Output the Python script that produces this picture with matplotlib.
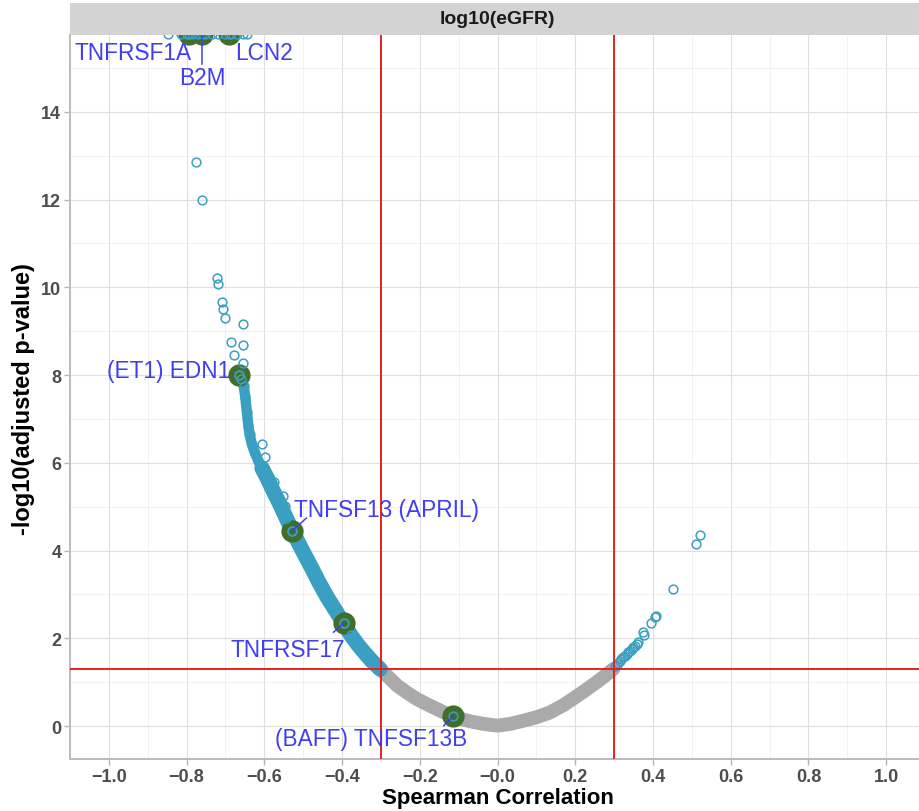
import matplotlib
matplotlib.use("Agg")
import matplotlib.pyplot as plt
from matplotlib.patches import Rectangle
import numpy as np

# ---- data ----
# significant genes, negative side (dense band from EDN1 down to rho = -0.3)
band_neg_rho = [-0.666, -0.660, -0.653, -0.649, -0.645, -0.641, -0.638, -0.632, -0.624,
                -0.615, -0.606, -0.593, -0.576, -0.559, -0.544, -0.528, -0.503, -0.478,
                -0.459, -0.439, -0.417, -0.396, -0.377, -0.358, -0.340, -0.323, -0.302]
band_neg_logp = [8.01, 7.92, 7.75, 7.50, 7.16, 6.85, 6.65, 6.42, 6.22,
                 6.04, 5.88, 5.66, 5.34, 5.04, 4.75, 4.45, 4.02, 3.60,
                 3.27, 2.95, 2.64, 2.34, 2.07, 1.84, 1.65, 1.48, 1.30]

# non significant genes (grey band)
ns_rho = [-0.302, -0.281, -0.259, -0.234, -0.208, -0.182, -0.156, -0.135, -0.114, -0.092,
          -0.071, -0.036, 0.000, 0.033, 0.066, 0.100, 0.135, 0.170, 0.204, 0.230,
          0.255, 0.277, 0.298]
ns_logp = [1.30, 1.12, 0.93, 0.77, 0.62, 0.50, 0.39, 0.30, 0.22, 0.16,
           0.11, 0.05, 0.01, 0.05, 0.12, 0.20, 0.31, 0.48, 0.68, 0.84,
           1.00, 1.15, 1.30]

# significant genes, positive side
pos_rho = [0.302, 0.307, 0.311, 0.315, 0.319, 0.324, 0.328, 0.332, 0.336, 0.341, 0.345,
           0.349, 0.353, 0.358, 0.362, 0.375, 0.377, 0.396, 0.405, 0.407, 0.452, 0.512, 0.522]
pos_logp = [1.36, 1.40, 1.44, 1.49, 1.53, 1.57, 1.60, 1.64, 1.68, 1.72, 1.76,
            1.80, 1.83, 1.87, 1.91, 2.14, 2.08, 2.35, 2.48, 2.50, 3.12, 4.15, 4.35]

# scattered significant genes on the negative side
out_rho = [-0.775, -0.760, -0.722, -0.719, -0.710, -0.706, -0.701, -0.655, -0.687,
           -0.655, -0.679, -0.655, -0.606, -0.598, -0.576, -0.551, -0.546]
out_logp = [12.86, 11.99, 10.21, 10.08, 9.67, 9.51, 9.30, 9.17, 8.75,
            8.69, 8.46, 8.28, 6.43, 6.13, 5.56, 5.24, 5.02]

# genes beyond the top of the y range
top_rho = [-0.847, -0.815, -0.800, -0.785, -0.770, -0.752, -0.735, -0.718,
           -0.700, -0.685, -0.670, -0.655, -0.645]
top_logp = [15.78, 15.78, 15.78, 15.78, 15.78, 15.78, 15.78, 15.78,
            15.78, 15.78, 15.78, 15.78, 15.78]

# highlighted genes
gene_labels = ["TNFRSF1A", "B2M", "LCN2", "(ET1) EDN1", "TNFSF13 (APRIL)",
               "TNFRSF17", "(BAFF) TNFSF13B"]
gene_rho = [-0.793, -0.761, -0.692, -0.666, -0.528, -0.396, -0.114]
gene_logp = [15.78, 15.78, 15.78, 8.01, 4.45, 2.34, 0.22]

rho_cut = 0.3
logp_cut = 1.3

# label placement (x centre, baseline) and segment end on the label side
label_pos = [(-0.937, 15.21), (-0.760, 14.64), (-0.602, 15.21), (-0.845, 7.95),
             (-0.286, 4.78), (-0.539, 1.60), (-0.325, -0.43)]
seg_end = [None, (-0.761, 15.09), None, None,
           (-0.492, 4.74), (-0.422, 2.14), (-0.138, 0.01)]

teal = "#3A9FC1"
grey = "#AAAAAA"
green = "#426E2C"
blue = "#3F3FF2"

plt.rcParams["font.family"] = ["Liberation Sans", "DejaVu Sans"]

W, H = 920, 812
fig = plt.figure(figsize=(W / 100, H / 100), dpi=100)
ax = fig.add_axes([70 / W, 52 / H, 855 / W, 724 / H])

ax.set_xlim(-1.1, 1.1)
ax.set_ylim(-0.75, 15.75)

xt = np.round(np.arange(-1.0, 1.01, 0.2), 1)
ax.set_xticks(xt)
ax.set_xticklabels([f"{v:.1f}".replace("-", "\u2212") for v in xt])
ax.set_xticks(np.round(np.arange(-1.1, 1.11, 0.2), 1), minor=True)
ax.set_yticks(np.arange(0, 15, 2))
ax.set_yticks(np.arange(1, 16, 2), minor=True)

ax.grid(which="major", color="#DEDEDE", lw=0.8)
ax.grid(which="minor", color="#ECECEC", lw=0.5)
ax.set_axisbelow(True)
for s in ["top", "right"]:
    ax.spines[s].set_visible(False)
for s in ["left", "bottom"]:
    ax.spines[s].set_color("#BBBBBB")
    ax.spines[s].set_linewidth(1.4)
ax.tick_params(which="major", length=4.3, width=1, color="#B3B3B3",
               labelsize=13, labelcolor="#4D4D4D", pad=2)
ax.tick_params(which="minor", length=0)
for t in ax.get_xticklabels() + ax.get_yticklabels():
    t.set_fontweight("bold")

# dense bands
split = 10
ax.plot(band_neg_rho[:split + 1], band_neg_logp[:split + 1], color=teal, lw=7.5,
        solid_capstyle="round", zorder=2)
ax.plot(band_neg_rho[split:], band_neg_logp[split:], color=teal, lw=11,
        solid_capstyle="round", zorder=2)
ax.plot(ns_rho, ns_logp, color=grey, lw=10, solid_capstyle="round", zorder=1.9)
ax.plot(ns_rho, ns_logp, "o", ms=6.3, mfc="none", mec=grey, mew=1.1, zorder=1.9)

# highlighted genes underlay
ax.plot(gene_rho, gene_logp, "o", ms=16, color=green, mec="none", zorder=3)

ring = dict(ms=6.3, mfc="none", mec=teal, mew=1.1, zorder=4, ls="none", marker="o")
ax.plot(band_neg_rho, band_neg_logp, **ring)
ax.plot(pos_rho, pos_logp, **ring)
ax.plot(out_rho, out_logp, **ring)
ax.plot(top_rho, top_logp, **ring)
ax.plot(gene_rho, gene_logp, **ring)

ax.axvline(-rho_cut, color="#E8201E", lw=1.4, zorder=4.5)
ax.axvline(rho_cut, color="#E8201E", lw=1.4, zorder=4.5)
ax.axhline(logp_cut, color="#E8201E", lw=1.4, zorder=4.5)

for lab, r, p, (lx, ly), se in zip(gene_labels, gene_rho, gene_logp, label_pos, seg_end):
    if se is not None:
        ax.plot([r, se[0]], [p, se[1]], color=blue, lw=1.1, zorder=5)
    ax.text(lx, ly, lab, ha="center", va="baseline", fontsize=16.3, color=blue, zorder=6)

# facet strip
fig.patches.append(Rectangle((70 / W, (H - 36) / H), 855 / W, 32 / H,
                             transform=fig.transFigure, facecolor="#D3D3D3",
                             edgecolor="none"))
fig.text(497.5 / W, (H - 20) / H, "log10(eGFR)", ha="center", va="center",
         fontsize=14, fontweight="bold", color="#1A1A1A")

fig.text(497.5 / W, (H - 804) / H, "Spearman Correlation", ha="center",
         va="baseline", fontsize=16, fontweight="bold")
fig.text(24 / W, (H - 399) / H, "-log10(adjusted p-value)", ha="center",
         va="center", rotation=90, fontsize=17, fontweight="bold")

fig.savefig("out.png", dpi=100)
